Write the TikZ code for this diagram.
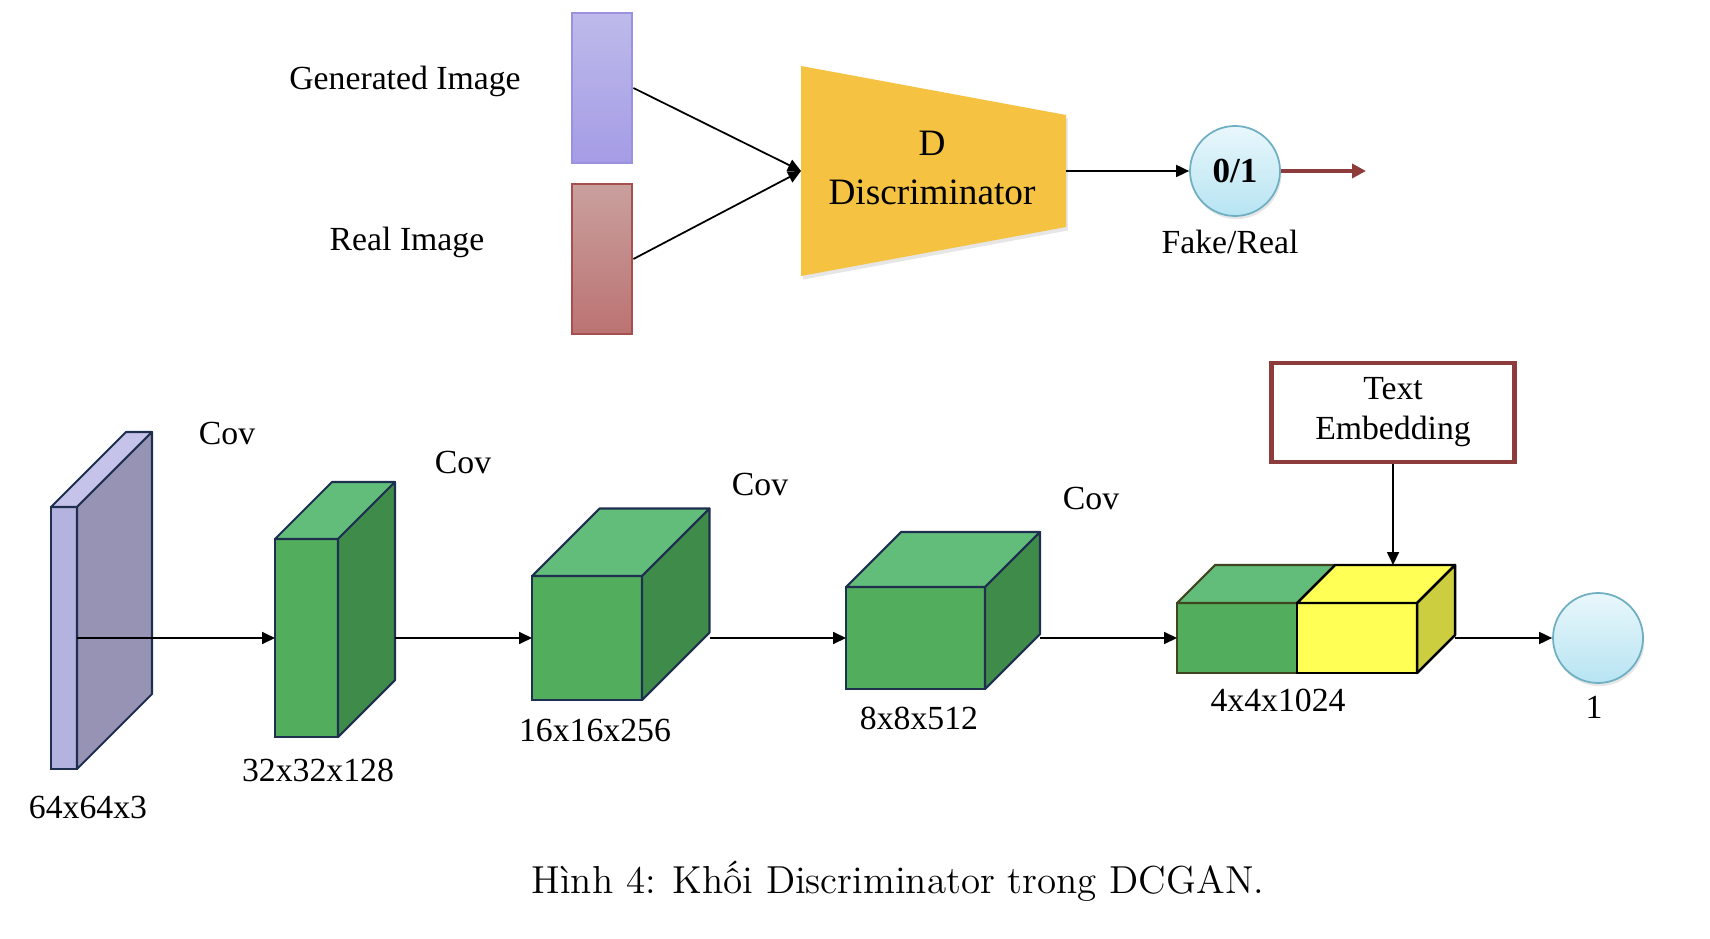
\documentclass[tikz,border=0pt]{standalone}
\usepackage{fontspec}
\newfontfamily\tnr{Liberation Serif}
\usepackage{tikz}
\usetikzlibrary{calc}
\usetikzlibrary{arrows.meta}
\usetikzlibrary{shadows}
\usepackage{xcolor}

\definecolor{slabfront}{HTML}{B4B3DF}
\definecolor{slabtop}{HTML}{C5C3EA}
\definecolor{slabside}{HTML}{9793B5}
\definecolor{greenfront}{HTML}{52AE5C}
\definecolor{greentop}{HTML}{62BD7B}
\definecolor{greenside}{HTML}{3F8C4A}
\definecolor{yellowfront}{HTML}{FFFF55}
\definecolor{yellowside}{HTML}{CDCD40}
\definecolor{edge}{HTML}{1E2F4F}
\definecolor{edgeolive}{HTML}{404520}
\definecolor{dgold}{HTML}{F5C242}
\definecolor{brick}{HTML}{8E3B3B}
\definecolor{gentop}{HTML}{BEBAEA}
\definecolor{genbot}{HTML}{A59CE6}
\definecolor{genedge}{HTML}{9A92DE}
\definecolor{realtop}{HTML}{C9A09E}
\definecolor{realbot}{HTML}{BB7372}
\definecolor{realedge}{HTML}{A5504F}
\definecolor{balltop}{HTML}{E9F7FC}
\definecolor{ballbot}{HTML}{B7E4F2}
\definecolor{balledge}{HTML}{6FAFC3}

\tikzset{
  lbl/.style={font=\tnr\fontsize{9.6}{11.5}\selectfont, text depth=0pt},
  every layer/.style={draw=edge, line width=0.6pt, inner sep=0pt, outer sep=0pt},
  neuron/.style={circle, minimum size=0.9cm, inner sep=0pt, draw=balledge,
    top color=balltop, bottom color=ballbot,
    drop shadow={opacity=0.2, shadow xshift=0.4pt, shadow yshift=-0.9pt}},
  image/.style={minimum width=0.6cm, minimum height=1.5cm, inner sep=0pt, line width=0.8pt}
}

\begin{document}
\begin{tikzpicture}[>={Triangle[length=1.3mm,width=1.2mm]}, line width=0.5pt]

\useasboundingbox (0,0) rectangle (17.1,9.38);

% ylaosa
\node [image, draw=genedge, top color=gentop, bottom color=genbot] (gen) at (6.02,8.50) {};
\node [image, draw=realedge, top color=realtop, bottom color=realbot] (real) at (6.02,6.79) {};

\node [lbl] (gen-lbl) at (4.05,8.60) {Generated Image};
\node [lbl] (real-lbl) at (4.07,6.99) {Real Image};

\coordinate (d-nw) at (8.01,8.72);
\coordinate (d-ne) at (10.66,8.23);
\coordinate (d-se) at (10.66,7.11);
\coordinate (d-sw) at (8.01,6.62);
\coordinate (d-in) at (8.01,7.67);
\coordinate (d-out) at (10.66,7.67);

\fill [dgold, drop shadow={opacity=0.2, shadow xshift=0.5pt, shadow yshift=-1pt}]
  (d-nw) -- (d-ne) -- (d-se) -- (d-sw) -- cycle;
\node [align=center, font=\tnr\fontsize{10.6}{13.7}\selectfont] (disc) at (9.32,7.70) {D\\Discriminator};

\node [neuron] (fr) at (12.35,7.67) {};
\node [font=\tnr\bfseries\fontsize{10}{12}\selectfont] at (fr) {0/1};
\node [lbl] (fr-lbl) at (12.30,6.96) {Fake/Real};
\coordinate (fr-end) at (13.66,7.67);

\draw [->] (gen.east) -- (d-in);
\draw [->] (real.east) -- (d-in);
\draw [->] (d-out) -- (fr.west);
\draw [-{Triangle[length=1.4mm,width=1.4mm]}, brick, line width=1.3pt] (fr.east) -- (fr-end);

% alaosa
\foreach \bx/\bw/\bh/\bd/\bc [count=\i] in {0.64/0.26/2.62/0.75/slab, 3.065/0.63/1.98/0.57/green, 5.87/1.10/1.24/0.675/green, 9.155/1.39/1.02/0.55/green}
{
  \node [every layer, fill=\bc front, minimum width=\bw cm, minimum height=\bh cm] (layer-\i) at (\bx,3.0) {};
  \filldraw [fill=\bc top, draw=edge, line width=0.6pt, line join=round]
    (layer-\i.north west) -- ++(\bd,\bd) -- ++(\bw,0) -- (layer-\i.north east) -- cycle;
  \filldraw [fill=\bc side, draw=edge, line width=0.6pt, line join=round]
    (layer-\i.north east) -- ++(\bd,\bd) -- ++(0,-\bh) -- (layer-\i.south east) -- cycle;
  \coordinate (out-\i) at ($(layer-\i.east)+(\bd,0)$);
}

\node [every layer, draw=edgeolive, fill=greenfront, minimum width=1.2cm, minimum height=0.7cm] (concat-1) at (12.37,3.0) {};
\filldraw [fill=greentop, draw=edgeolive, line width=0.6pt, line join=round]
  (concat-1.north west) -- ++(0.38,0.38) -- ++(1.2,0) -- (concat-1.north east) -- cycle;
\node [every layer, draw=black, line width=0.7pt, fill=yellowfront, minimum width=1.2cm, minimum height=0.7cm] (concat-2) at (13.57,3.0) {};
\filldraw [fill=yellowfront, draw=black, line width=0.7pt, line join=round]
  (concat-2.north west) -- ++(0.38,0.38) -- ++(1.2,0) -- (concat-2.north east) -- cycle;
\filldraw [fill=yellowside, draw=black, line width=0.7pt, line join=round]
  (concat-2.north east) -- ++(0.38,0.38) -- ++(0,-0.7) -- (concat-2.south east) -- cycle;
\coordinate (out-5) at ($(concat-2.east)+(0.38,0)$);
\coordinate (embed-top) at ($(concat-2.north)+(0.38,0.38)$);

\node [draw=brick, line width=1.3pt, minimum width=2.43cm, minimum height=0.99cm, align=center,
  font=\tnr\fontsize{9.6}{11.4}\selectfont] (txt) at (13.93,5.255) {Text\\Embedding};

\node [neuron] (score) at (15.98,3.0) {};

\foreach \l/\x/\y [count=\i] in {64x64x3/0.88/1.31, 32x32x128/3.18/1.68, 16x16x256/5.95/2.08, 8x8x512/9.19/2.20, 4x4x1024/12.78/2.38, 1/15.94/2.31}
  \node [lbl] (size-\i) at (\x,\y) {\l};

\foreach \x/\y [count=\i] in {2.27/5.05, 4.63/4.76, 7.60/4.54, 10.91/4.40}
  \node [lbl] (cov-\i) at (\x,\y) {Cov};

\draw [->] (layer-1.east) -- (layer-2.west);
\foreach \i [count=\j from 3] in {2,3}
  \draw [->] (out-\i) -- (layer-\j.west |- out-\i);
\draw [->] (out-4) -- (concat-1.west);
\draw [->] (out-5) -- (score.west);
\draw [->] (txt.south) -- (txt.south |- embed-top);

\node [font=\fontsize{11.1}{13}\selectfont] (caption) at (8.98,0.57) {Hình 4: Khối Discriminator trong DCGAN.};

\end{tikzpicture}
\end{document}
